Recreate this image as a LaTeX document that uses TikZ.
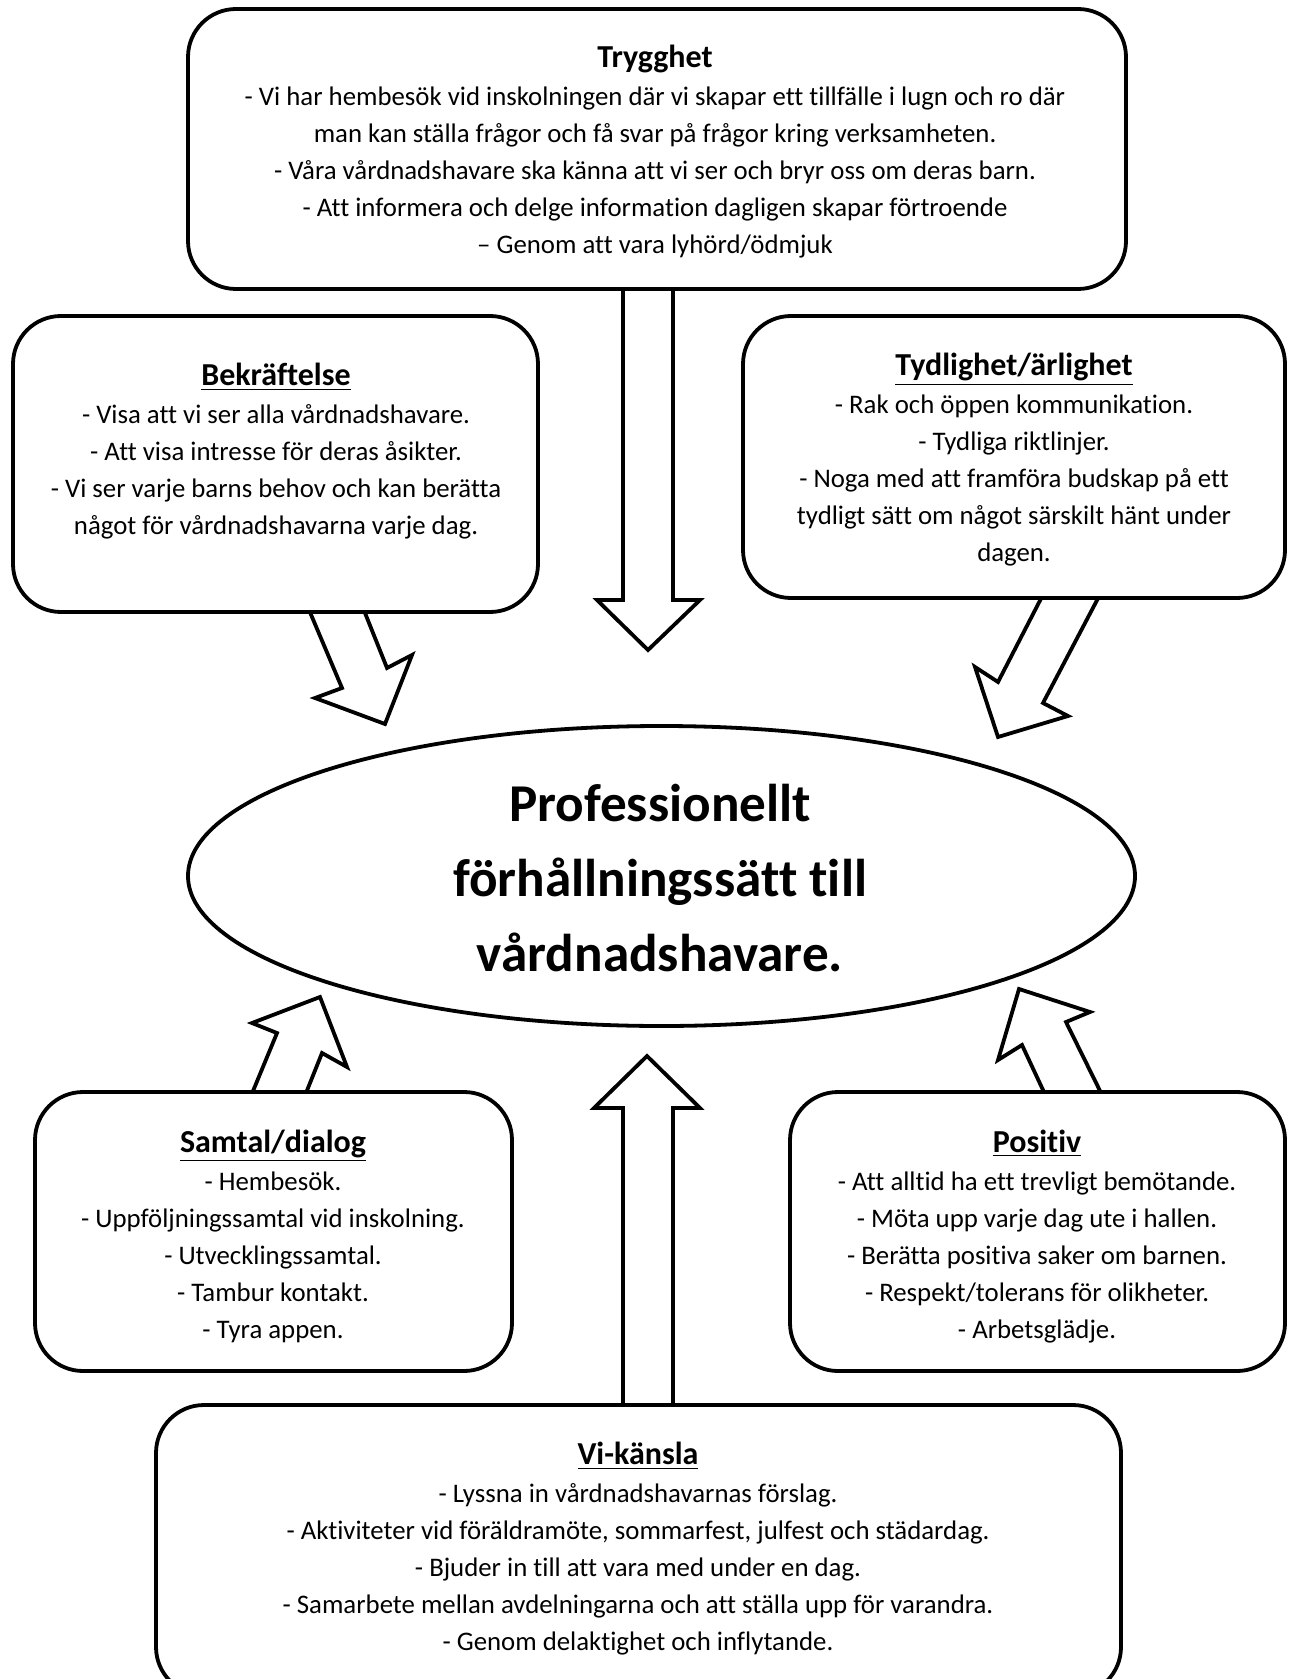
\documentclass[tikz,border=0pt]{standalone}
\usepackage{fontspec}
\setmainfont[Ligatures=NoCommon]{Carlito}
\usetikzlibrary{shapes.geometric}

\newcommand{\bodysize}{\fontsize{13.4}{18.5}\selectfont}
\newcommand{\headline}[1]{{\fontsize{16}{18.5}\selectfont\bfseries #1}\\[0.5pt]}

\begin{document}
\begin{tikzpicture}[x=0.5pt,y=-0.5pt,
  box/.style={draw,fill=white,line width=1.9pt,rounded corners=24pt,inner sep=0pt},
  txt/.style={align=center,inner sep=0pt,font=\bodysize},
  blockarrow/.style={draw,fill=white,line width=1.9pt,line join=miter}]
\useasboundingbox (0,0) rectangle (1291,1679);

% block arrows first, boxes cover their feet
\draw[blockarrow] (623,280) -- (623,600) -- (597,600) -- (648,650) -- (700,600) -- (673,600) -- (673,280) -- cycle;
\draw[blockarrow] (623,1415) -- (623,1108) -- (594,1108) -- (647,1056) -- (700,1108) -- (673,1108) -- (673,1415) -- cycle;
\draw[blockarrow] (304,598) -- (342,688) -- (315,698) -- (385,724) -- (412,655) -- (387,668) -- (359,598) -- cycle;
\draw[blockarrow] (1048,585) -- (998,682) -- (975,667) -- (998,737) -- (1068,716) -- (1043,703) -- (1105,585) -- cycle;
\draw[blockarrow] (246,1108) -- (277,1033) -- (252,1023) -- (320,997) -- (347,1067) -- (322,1053) -- (300,1108) -- cycle;
\draw[blockarrow] (1050,1105) -- (1022,1045) -- (998,1060) -- (1019,989) -- (1090,1012) -- (1066,1022) -- (1107,1105) -- cycle;

% boxes
\node[box,minimum width=469pt,minimum height=140pt] (trygghet) at (657,149) {};
\node[box,minimum width=262.5pt,minimum height=148pt] (bekraftelse) at (275.5,464) {};
\node[box,minimum width=271pt,minimum height=141pt] (tydlighet) at (1014,457) {};
\node[box,minimum width=238.5pt,minimum height=139.5pt] (samtal) at (273.5,1231.5) {};
\node[box,minimum width=247.5pt,minimum height=139.5pt] (positiv) at (1037.5,1231.5) {};
\node[box,minimum width=482.5pt,minimum height=145pt] (vikansla) at (638.5,1550) {};
\node[draw,fill=white,line width=1.9pt,ellipse,minimum width=473.5pt,minimum height=150pt,inner sep=0pt] (mal) at (661.5,876) {};

% texts
\node[txt] (trygghet-t) at (655,152) {\headline{Trygghet}
  - Vi har hembesök vid inskolningen där vi skapar ett tillfälle i lugn och ro där\\
  man kan ställa frågor och få svar på frågor kring verksamheten.\\
  - Våra vårdnadshavare ska känna att vi ser och bryr oss om deras barn.\\
  - Att informera och delge information dagligen skapar förtroende\\
  – Genom att vara lyhörd/ödmjuk};
\node[txt] (bekraftelse-t) at (276,451.5) {\headline{\underline{Bekräftelse}}
  - Visa att vi ser alla vårdnadshavare.\\
  - Att visa intresse för deras åsikter.\\
  - Vi ser varje barns behov och kan berätta\\
  något för vårdnadshavarna varje dag.};
\node[txt] (tydlighet-t) at (1014,460) {\headline{\underline{Tydlighet/ärlighet}}
  - Rak och öppen kommunikation.\\
  - Tydliga riktlinjer.\\
  - Noga med att framföra budskap på ett\\
  tydligt sätt om något särskilt hänt under\\
  dagen.};
\node[txt,font=\fontsize{26.6}{37.5}\selectfont\bfseries] (mal-t) at (660,878) {Professionellt\\
  förhållningssätt till\\
  vårdnadshavare.};
\node[txt] (samtal-t) at (273,1236.5) {\headline{\underline{Samtal/dialog}}
  - Hembesök.\\
  - Uppföljningssamtal vid inskolning.\\
  - Utvecklingssamtal.\\
  - Tambur kontakt.\\
  - Tyra appen.};
\node[txt] (positiv-t) at (1037,1236.5) {\headline{\underline{Positiv}}
  - Att alltid ha ett trevligt bemötande.\\
  - Möta upp varje dag ute i hallen.\\
  - Berätta positiva saker om barnen.\\
  - Respekt/tolerans för olikheter.\\
  - Arbetsglädje.};
\node[txt] (vikansla-t) at (638,1549) {\headline{\underline{Vi-känsla}}
  - Lyssna in vårdnadshavarnas förslag.\\
  - Aktiviteter vid föräldramöte, sommarfest, julfest och städardag.\\
  - Bjuder in till att vara med under en dag.\\
  - Samarbete mellan avdelningarna och att ställa upp för varandra.\\
  - Genom delaktighet och inflytande.};
\end{tikzpicture}
\end{document}
